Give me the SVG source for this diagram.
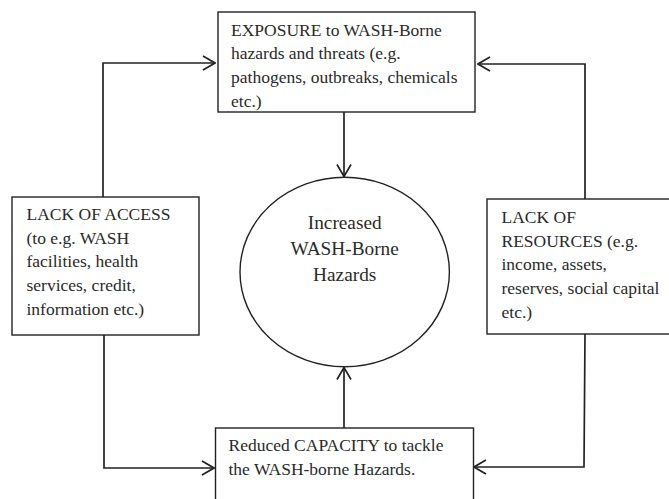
<svg xmlns="http://www.w3.org/2000/svg" width="669" height="499" viewBox="0 0 669 499">
<style>
.box{fill:#fff;stroke:#222;stroke-width:1.4}
.t{font-family:"Liberation Serif","Times New Roman",serif;font-size:17.5px;fill:#2a2a2a}
.c{font-family:"Liberation Serif","Times New Roman",serif;font-size:19.3px;fill:#2a2a2a;text-anchor:middle}
.ln{fill:none;stroke:#222;stroke-width:1.7}
</style>
<defs>
<marker id="ah" viewBox="0 0 14 16" refX="13" refY="8" markerWidth="14" markerHeight="16" markerUnits="userSpaceOnUse" orient="auto">
<path d="M1,1 L13,8 L1,15" fill="none" stroke="#222" stroke-width="1.7"/>
</marker>
</defs>
<rect width="669" height="499" fill="#fff"/>
<g id="connectors">
<path class="ln" d="M103,197 L103,63 L215,63" marker-end="url(#ah)"/>
<path class="ln" d="M585,199 L585,64 L478,64" marker-end="url(#ah)"/>
<path class="ln" d="M344,112 L344,176.5" marker-end="url(#ah)"/>
<path class="ln" d="M104,335 L104,468 L214,468" marker-end="url(#ah)"/>
<path class="ln" d="M585,334 L584,467 L474,467" marker-end="url(#ah)"/>
<path class="ln" d="M344,428 L344,367.5" marker-end="url(#ah)"/>
</g>
<g id="exposure">
<rect class="box" x="218" y="12" width="257" height="100"/>
<text class="t" x="231" y="35.5">EXPOSURE to WASH-Borne</text>
<text class="t" x="231" y="59.2">hazards and threats (e.g.</text>
<text class="t" x="231" y="82.9">pathogens, outbreaks, chemicals</text>
<text class="t" x="231" y="106.6">etc.)</text>
</g>
<g id="access">
<rect class="box" x="12" y="197" width="187" height="138"/>
<text class="t" x="26.5" y="220">LACK OF ACCESS</text>
<text class="t" x="26.5" y="243.7">(to e.g. WASH</text>
<text class="t" x="26.5" y="267.4">facilities, health</text>
<text class="t" x="26.5" y="291.1">services, credit,</text>
<text class="t" x="26.5" y="314.8">information etc.)</text>
</g>
<g id="hazards">
<ellipse cx="344.7" cy="272" rx="104.7" ry="94.7" fill="#fff" stroke="#222" stroke-width="1.4"/>
<text class="c" x="344.7" y="228.5">Increased</text>
<text class="c" x="344.7" y="254.5">WASH-Borne</text>
<text class="c" x="344.7" y="280.5">Hazards</text>
</g>
<g id="resources">
<rect class="box" x="487" y="199" width="190" height="135"/>
<text class="t" x="501.5" y="223">LACK OF</text>
<text class="t" x="501.5" y="246.7">RESOURCES (e.g.</text>
<text class="t" x="501.5" y="270.4">income, assets,</text>
<text class="t" x="501.5" y="294.1">reserves, social capital</text>
<text class="t" x="501.5" y="317.8">etc.)</text>
</g>
<g id="capacity">
<rect class="box" x="215.5" y="428" width="258" height="80"/>
<text class="t" x="228.5" y="450.7">Reduced CAPACITY to tackle</text>
<text class="t" x="228.5" y="475">the WASH-borne Hazards.</text>
</g>
</svg>
